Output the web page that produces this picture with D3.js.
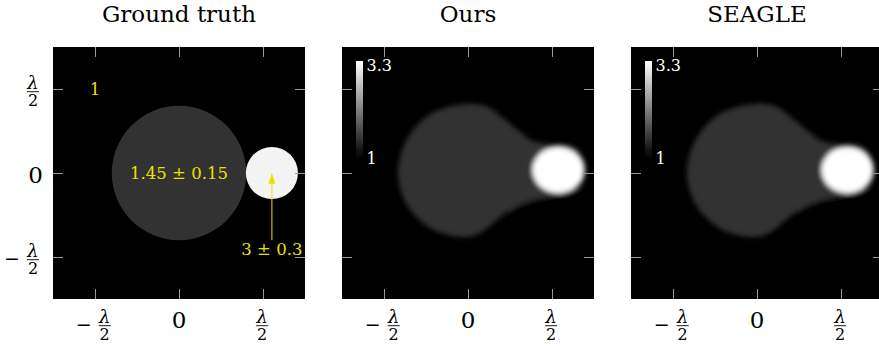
<!DOCTYPE html>
<html>
<head>
<meta charset="utf-8">
<script src="https://cdn.jsdelivr.net/npm/d3@7"></script>
<style>
  body { margin: 0; background: #fff; }
  svg { display: block; }
  text { font-family: "DejaVu Serif", serif; }
</style>
</head>
<body>
<script>
// panel titles and axis ticks (in units of lambda)
const titles = ["Ground truth", "Ours", "SEAGLE"];
const tickValues = [-0.5, 0, 0.5];
const extent = [-0.75, 0.75];
const colorRange = [1, 3.3];

// ground truth inclusions: centre / radius in lambda, refractive index
const truthCircles = [
  { cx: 0, cy: 0, r: 0.4, n: 1.45 },
  { cx: 0.553, cy: 0, r: 0.155, n: 3.2 }
];
const truthLabels = [
  { x: -0.5, y: 0.5, text: "1" },
  { x: 0, y: 0, text: "1.45 ± 0.15" },
  { x: 0.553, y: -0.45, text: "3 ± 0.3" }
];
const truthArrow = [[0.553, -0.4], [0.553, 0]];

// reconstructions (Ours and SEAGLE look alike), outlines read in lambda
const reconBlob = [
  [-0.417, 0], [-0.363, 0.202], [-0.214, 0.357], [0, 0.411], [0.119, 0.393],
  [0.208, 0.327], [0.310, 0.244], [0.387, 0.190], [0.476, 0.173], [0.565, 0.173],
  [0.643, 0.149], [0.690, 0.083], [0.702, 0], [0.673, -0.071], [0.595, -0.119],
  [0.506, -0.137], [0.387, -0.161], [0.310, -0.190], [0.208, -0.250],
  [0.107, -0.333], [0, -0.381], [-0.214, -0.333], [-0.363, -0.190]
];
const reconBlobN = 1.45;
const reconTail = [
  [0.238, -0.208], [0.417, -0.131], [0.595, -0.107], [0.774, -0.107],
  [0.774, -0.380], [0.595, -0.380], [0.446, -0.350], [0.327, -0.305]
];
const reconTailN = 1.045;
const reconCore = { cx: 0.536, cy: 0.018, rx: 0.152, ry: 0.137, n: 3.4 };

const width = 879, height = 348;
const size = 252, panelTop = 47, step = 289, left0 = 53;
const tickLen = 10;
const yellow = "#ece000";

const color = d3.scaleLinear().domain(colorRange).range(["#000", "#fff"]).clamp(true);
const x = d3.scaleLinear(extent, [0, size]);
const y = d3.scaleLinear(extent, [size, 0]);

const svg = d3.select("body").append("svg")
  .attr("width", width)
  .attr("height", height)
  .attr("viewBox", `0 0 ${width} ${height}`);

const defs = svg.append("defs");
defs.append("filter")
  .attr("id", "blur")
  .attr("x", "-20%").attr("y", "-20%").attr("width", "140%").attr("height", "140%")
  .append("feGaussianBlur").attr("stdDeviation", 2.6);

defs.append("marker")
  .attr("id", "arrowhead")
  .attr("viewBox", "0 0 10 7")
  .attr("refX", 10).attr("refY", 3.5)
  .attr("markerWidth", 10).attr("markerHeight", 7)
  .attr("markerUnits", "userSpaceOnUse")
  .attr("orient", "auto")
  .append("path")
  .attr("d", "M0,0L10,3.5L0,7Z")
  .attr("fill", yellow);

const grad = defs.append("linearGradient")
  .attr("id", "cbar")
  .attr("x1", 0).attr("y1", 1).attr("x2", 0).attr("y2", 0);
grad.selectAll("stop")
  .data(colorRange)
  .join("stop")
  .attr("offset", (d, i) => i)
  .attr("stop-color", d => color(d));

const outline = d3.line()
  .curve(d3.curveCatmullRomClosed)
  .x(d => x(d[0]))
  .y(d => y(d[1]));

// lambda/2 as one text element, with a drawn fraction bar
function fraction(g, cx, barY, negative) {
  const t = g.append("text").attr("text-anchor", "middle");
  if (negative) {
    t.append("tspan")
      .attr("x", cx - 21).attr("y", barY + 5)
      .attr("font-size", 19)
      .text("−");
  }
  t.append("tspan")
    .attr("x", cx).attr("y", barY - 2.5)
    .attr("font-size", 18)
    .attr("font-style", "italic")
    .text("λ");
  t.append("tspan")
    .attr("x", cx).attr("y", barY + 14.5)
    .attr("font-size", 16)
    .text("2");
  g.append("line")
    .attr("x1", cx - 6).attr("x2", cx + 6)
    .attr("y1", barY).attr("y2", barY)
    .attr("stroke", "#000").attr("stroke-width", 0.9);
}

titles.forEach((title, i) => {
  const left = left0 + i * step;
  const g = svg.append("g").attr("transform", `translate(${left},${panelTop})`);

  defs.append("clipPath").attr("id", `clip${i}`)
    .append("rect").attr("width", size).attr("height", size);

  svg.append("text")
    .attr("x", left + size / 2).attr("y", 22)
    .attr("text-anchor", "middle")
    .attr("font-size", 23)
    .text(title);

  const body = g.append("g").attr("clip-path", `url(#clip${i})`);
  body.append("rect").attr("width", size).attr("height", size).attr("fill", "#000");

  if (i === 0) {
    body.selectAll("circle")
      .data(truthCircles)
      .join("circle")
      .attr("cx", d => x(d.cx))
      .attr("cy", d => y(d.cy))
      .attr("r", d => x(d.r) - x(0))
      .attr("fill", d => color(d.n));

    body.append("path")
      .attr("d", d3.line().x(d => x(d[0])).y(d => y(d[1])).curve(d3.curveLinear)([truthArrow[0], [truthArrow[1][0], truthArrow[1][1] - 0.004]]))
      .attr("stroke", yellow)
      .attr("stroke-width", 1)
      .attr("marker-end", "url(#arrowhead)");
  } else {
    const rec = body.append("g").attr("filter", "url(#blur)");
    rec.append("path").attr("d", outline(reconTail)).attr("fill", color(reconTailN));
    rec.append("path").attr("d", outline(reconBlob)).attr("fill", color(reconBlobN));
    rec.append("ellipse")
      .attr("cx", x(reconCore.cx)).attr("cy", y(reconCore.cy))
      .attr("rx", x(reconCore.rx) - x(0)).attr("ry", y(0) - y(reconCore.ry))
      .attr("fill", color(reconCore.n));

    // colour bar
    const cb = d3.scaleLinear(colorRange, [111, 14]);
    body.append("rect")
      .attr("x", 14).attr("width", 7)
      .attr("y", cb(colorRange[1])).attr("height", cb(colorRange[0]) - cb(colorRange[1]))
      .attr("fill", "url(#cbar)");
    body.selectAll(".cblabel")
      .data(colorRange)
      .join("text")
      .attr("class", "cblabel")
      .attr("x", 24.5)
      .attr("y", (d, j) => cb(d) + (j === 0 ? 5.5 : 9.5))
      .attr("font-size", 16)
      .attr("fill", "#fff")
      .text(d => d3.format("")(d));
  }

  // inward ticks on all four sides
  const axes = [
    [d3.axisBottom(x), `translate(0,${size})`],
    [d3.axisTop(x), "translate(0,0)"],
    [d3.axisLeft(y), "translate(0,0)"],
    [d3.axisRight(y), `translate(${size},0)`]
  ];
  axes.forEach(([axis, tr]) => {
    g.append("g")
      .attr("transform", tr)
      .call(axis.tickValues(tickValues).tickSize(-tickLen).tickFormat(""))
      .call(a => a.select(".domain").remove())
      .call(a => a.selectAll(".tick line").attr("stroke", "#9a9a9a"));
  });

  // x tick labels
  tickValues.forEach(v => {
    const tx = x(v);
    if (v === 0) {
      g.append("text").attr("x", tx).attr("y", size + 29)
        .attr("text-anchor", "middle").attr("font-size", 23).text("0");
    } else if (v < 0) {
      fraction(g, tx + 9.7, size + 26.7, true);
    } else {
      fraction(g, tx - 0.8, size + 26.7, false);
    }
  });

  // y tick labels only on the first panel
  if (i === 0) {
    tickValues.forEach(v => {
      const ty = y(v);
      if (v === 0) {
        g.append("text").attr("x", -10).attr("y", ty + 9.5)
          .attr("text-anchor", "end").attr("font-size", 23).text("0");
      } else {
        fraction(g, -20, ty + 2.7, v < 0);
      }
    });

    g.selectAll(".tlabel")
      .data(truthLabels)
      .join("text")
      .attr("class", "tlabel")
      .attr("x", d => x(d.x))
      .attr("y", d => y(d.y) + 6)
      .attr("text-anchor", "middle")
      .attr("font-size", 16.5)
      .attr("fill", yellow)
      .text(d => d.text);
  }
});
</script>
</body>
</html>
